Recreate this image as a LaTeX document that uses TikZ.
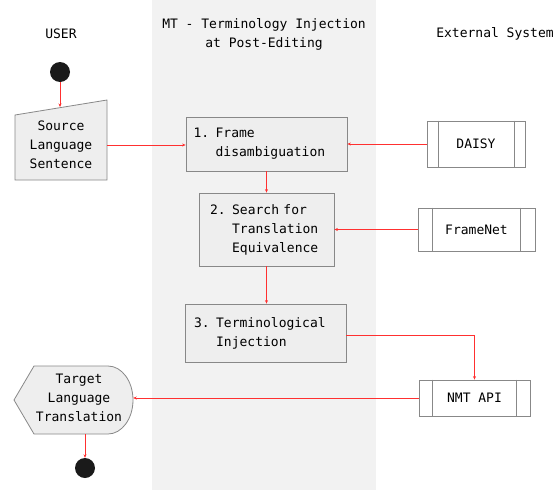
\documentclass[tikz,border=0pt]{standalone}
\usepackage{fontspec}
\setmonofont{DejaVu Sans Mono}
\usetikzlibrary{arrows.meta}
\definecolor{band}{HTML}{F2F2F2}
\definecolor{boxfill}{HTML}{EEEEEE}
\definecolor{boxline}{HTML}{888888}
\definecolor{conn}{HTML}{FF3030}
\definecolor{dot}{HTML}{1A1A1A}
\tikzset{
  every node/.style={font=\ttfamily\fontsize{13}{19}\selectfont},
  stepbox/.style={draw=boxline, fill=boxfill, line width=0.8pt, align=left, inner ysep=0pt},
  extbox/.style={draw=boxline, fill=white, line width=0.8pt, inner sep=0pt},
  conn/.style={draw=conn, line width=0.8pt, -{Stealth[length=3.5pt,width=3pt]}},
  dotnode/.style={circle, fill=dot, minimum size=20pt, inner sep=0pt},
  title/.style={align=center}
}
\begin{document}
\begin{tikzpicture}[x=1pt,y=-1pt]
\useasboundingbox (0,0) rectangle (559,490);
% swimlane band
\fill[band] (152,0) rectangle (376,490);
% titles
\node[title] (tuser) at (61,34) {USER};
\node[title] (tmt) at (264,34) {MT - Terminology Injection\\at Post-Editing};
\node[title] (text) at (495,34) {External System};
% start
\node[dotnode] (start) at (60,72) {};
% source (manual input)
\draw[boxline, fill=boxfill, line width=0.8pt] (15,115) -- (107,100) -- (107,180) -- (15,180) -- cycle;
\node[align=center, minimum width=92pt, minimum height=80pt, inner sep=0pt] (src) at (61,145) {Source\\Language\\Sentence};
\coordinate (srctop) at (60,107);
% steps
\node[stepbox, inner xsep=7.5pt, text width=146pt, minimum height=54pt] (b1) at (266.5,144) {1. Frame\\\phantom{1. }disambiguation};
\node[stepbox, inner xsep=11pt, text width=113pt, minimum height=73pt] (b2) at (266.5,229.5) {2. Search for\\\phantom{2. }Translation\\\phantom{2. }Equivalence};
\node[stepbox, inner xsep=9pt, text width=143pt, minimum height=58pt] (b3) at (265.5,333) {3. Terminological\\\phantom{3. }Injection};
% external systems
\node[extbox, minimum width=98pt, minimum height=46pt] (daisy) at (476,144) {DAISY};
\draw[boxline, line width=0.8pt] ([xshift=12pt]daisy.north west) -- ([xshift=12pt]daisy.south west)
  ([xshift=-11pt]daisy.north east) -- ([xshift=-11pt]daisy.south east);
\node[extbox, minimum width=117pt, minimum height=43pt] (fnet) at (476.5,229.5) {FrameNet};
\draw[boxline, line width=0.8pt] ([xshift=15pt]fnet.north west) -- ([xshift=15pt]fnet.south west)
  ([xshift=-15pt]fnet.north east) -- ([xshift=-15pt]fnet.south east);
\node[extbox, minimum width=111pt, minimum height=36pt] (nmt) at (474.5,398) {NMT API};
\draw[boxline, line width=0.8pt] ([xshift=14pt]nmt.north west) -- ([xshift=14pt]nmt.south west)
  ([xshift=-14pt]nmt.north east) -- ([xshift=-14pt]nmt.south east);
% target (display shape)
\draw[boxline, fill=boxfill, line width=0.8pt] (14,400) -- (34,366) -- (108,366)
  arc[start angle=-90, end angle=90, x radius=25, y radius=34] -- (34,434) -- cycle;
\node[align=center, minimum width=119pt, minimum height=68pt, inner sep=0pt] (tgt) at (73.5,400) {};
\node[align=center] (tgttext) at (79,398) {Target\\Language\\Translation};
% end
\node[dotnode] (end) at (85,468) {};
% connectors
\draw[conn] (start) -- (srctop);
\draw[conn] (src.east) -- (src.east -| b1.west);
\draw[conn] (daisy.west) -- (b1.east);
\draw[conn] (b1.south) -- (b2.north);
\draw[conn] (fnet.west) -- (b2.east);
\draw[conn] (b2.south) -- (b2.south |- b3.north);
\draw[conn] ([yshift=-2pt]b3.east) -| (nmt.north);
\draw[conn] (nmt.west) -- (nmt.west -| tgt.east);
\draw[conn] (tgt.south -| end) -- (end);
\end{tikzpicture}
\end{document}
